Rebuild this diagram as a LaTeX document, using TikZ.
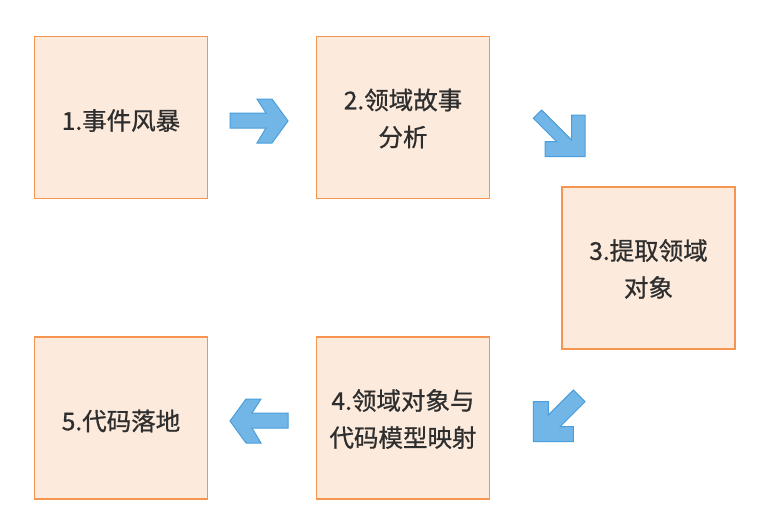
\documentclass[tikz,border=0pt]{standalone}
\usepackage{fontspec}
\setmainfont{Noto Sans CJK SC}[FakeBold=0.8]
\definecolor{boxfill}{HTML}{FCEADC}
\definecolor{boxline}{HTML}{F5954F}
\definecolor{arrfill}{HTML}{72B6E7}
\definecolor{arrline}{HTML}{4A9EDB}
\definecolor{txt}{HTML}{2E2E2E}
\tikzset{
  stepbox/.style={draw=boxline, fill=boxfill, line width=1.2pt, minimum width=173pt, minimum height=162pt, inner sep=0pt},
  steptext/.style={text=txt, align=center, font=\fontsize{24.5}{37}\selectfont, inner sep=0pt},
  bigarrow/.style={draw=arrline, fill=arrfill, line width=1pt, line join=miter}
}
\begin{document}
\begin{tikzpicture}[x=1pt,y=-1pt]
\useasboundingbox (0,0) rectangle (768,531);
\node[stepbox] (b1) at (121,117.5) {};
\node[stepbox] (b2) at (403,117.5) {};
\node[stepbox] (b3) at (648.5,268) {};
\node[stepbox] (b4) at (403,418) {};
\node[stepbox] (b5) at (121,418) {};
\node[steptext] (t1) at ([yshift=-3pt]b1.center) {1.事件风暴};
\node[steptext] (t2) at ([yshift=-1pt]b2.center) {2.领域故事\\分析};
\node[steptext] (t3) at ([yshift=-1pt]b3.center) {3.提取领域\\对象};
\node[steptext] (t4) at ([yshift=-1pt]b4.center) {4.领域对象与\\代码模型映射};
\node[steptext] (t5) at ([yshift=-3pt]b5.center) {5.代码落地};
% right arrow
\draw[bigarrow] (230,113) -- (266,113) -- (257,99) -- (272,99) -- (288,121) -- (272,143) -- (257,143) -- (266,128) -- (230,128) -- cycle;
% down-right arrow
\draw[bigarrow] (533.3,118.3) -- (541.7,110) -- (571.7,140) -- (571.7,115) -- (585,115) -- (585,156.7) -- (545,156.7) -- (545,141.7) -- (556.7,141.7) -- cycle;
% down-left arrow
\draw[bigarrow] (573.3,390) -- (585,401.7) -- (560,426.7) -- (573.3,426.7) -- (573.3,441.7) -- (533.3,441.7) -- (533.3,401.7) -- (548.3,401.7) -- (548.3,415) -- cycle;
% left arrow
\draw[bigarrow] (288,413) -- (252,413) -- (261,399) -- (246,399) -- (230,421) -- (246,443) -- (261,443) -- (252,428) -- (288,428) -- cycle;
\end{tikzpicture}
\end{document}
